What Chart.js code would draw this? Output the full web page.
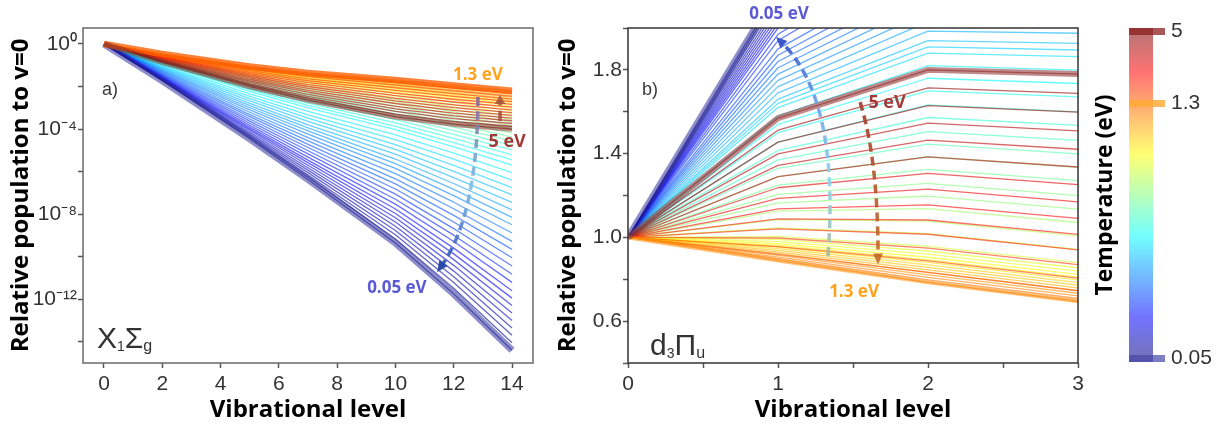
<!DOCTYPE html>
<html><head><meta charset="utf-8">
<script src="https://cdn.jsdelivr.net/npm/chart.js@4.4.1/dist/chart.umd.min.js"></script>
<style>
html,body{margin:0;padding:0;background:#fff;}
body{width:1227px;height:426px;position:relative;overflow:hidden;}
canvas{position:absolute;top:0;}
#ca{left:0}
#cb{left:545px}
#cc{left:1090px}
</style></head><body>
<canvas id="ca" width="545" height="426"></canvas>
<canvas id="cb" width="545" height="426"></canvas>
<canvas id="cc" width="137" height="426"></canvas>
<script>
// ---------------- DATA ----------------
// electron temperatures (eV) of the curves
const tempsCold = [0.05,0.075,0.1,0.125,0.15,0.175,0.2,0.225,0.25,0.275,0.3,0.325,0.35,0.375,0.4,0.425,0.45,0.475,0.5,0.525,0.55,0.575,0.6,0.625,0.65,0.675,0.7,0.725,0.75,0.775,0.8,0.825,0.85,0.875,0.9,0.925,0.95,0.975,1.0,1.025,1.05,1.075,1.1,1.125,1.15,1.175,1.2,1.225,1.25,1.275,1.3];
const tempsHot = [1.56,1.83,2.09,2.36,2.62,2.89,3.15,3.41,3.68,3.94,4.21,4.47,4.74,5.0];

// Panel a) X1Σg : vibrational levels and log10(relative population), v=0 -> 0
const levelsA = [0, 2, 5, 7, 10, 12, 14];
const logA2Cold = [-1.73,-1.72,-1.70,-1.68,-1.66,-1.64,-1.62,-1.60,-1.57,-1.54,-1.51,-1.47,-1.44,-1.40,-1.36,-1.32,-1.28,-1.24,-1.20,-1.16,-1.12,-1.08,-1.04,-0.99,-0.94,-0.91,-0.88,-0.85,-0.83,-0.80,-0.78,-0.75,-0.73,-0.70,-0.68,-0.66,-0.64,-0.63,-0.61,-0.59,-0.57,-0.56,-0.55,-0.54,-0.53,-0.52,-0.51,-0.50,-0.49,-0.48,-0.47];
const logA5Cold = [-4.46,-4.40,-4.34,-4.27,-4.21,-4.14,-4.06,-3.99,-3.91,-3.82,-3.73,-3.63,-3.53,-3.42,-3.32,-3.21,-3.10,-3.00,-2.90,-2.79,-2.68,-2.57,-2.46,-2.35,-2.23,-2.15,-2.08,-2.00,-1.93,-1.87,-1.80,-1.74,-1.68,-1.63,-1.57,-1.53,-1.48,-1.43,-1.39,-1.35,-1.31,-1.27,-1.24,-1.21,-1.19,-1.16,-1.14,-1.11,-1.09,-1.07,-1.06];
const logA7Cold = [-6.37,-6.26,-6.16,-6.05,-5.93,-5.82,-5.70,-5.58,-5.46,-5.32,-5.17,-5.02,-4.87,-4.72,-4.56,-4.40,-4.24,-4.09,-3.95,-3.80,-3.64,-3.49,-3.33,-3.17,-3.00,-2.89,-2.78,-2.68,-2.58,-2.49,-2.40,-2.31,-2.23,-2.15,-2.08,-2.01,-1.95,-1.88,-1.82,-1.76,-1.71,-1.66,-1.62,-1.58,-1.54,-1.51,-1.48,-1.44,-1.41,-1.38,-1.36];
const logA10Cold = [-9.36,-9.17,-8.97,-8.77,-8.57,-8.37,-8.17,-7.97,-7.76,-7.53,-7.30,-7.06,-6.82,-6.58,-6.34,-6.10,-5.85,-5.63,-5.41,-5.18,-4.96,-4.73,-4.50,-4.27,-4.03,-3.87,-3.71,-3.56,-3.42,-3.29,-3.16,-3.04,-2.91,-2.81,-2.71,-2.61,-2.52,-2.43,-2.34,-2.26,-2.19,-2.12,-2.06,-2.00,-1.95,-1.90,-1.86,-1.81,-1.77,-1.73,-1.69];
const logA12Cold = [-11.75,-11.49,-11.22,-10.95,-10.68,-10.41,-10.14,-9.87,-9.60,-9.29,-8.99,-8.68,-8.37,-8.06,-7.75,-7.44,-7.13,-6.84,-6.56,-6.28,-5.99,-5.71,-5.42,-5.13,-4.84,-4.64,-4.44,-4.25,-4.08,-3.91,-3.76,-3.60,-3.45,-3.32,-3.19,-3.08,-2.96,-2.85,-2.75,-2.64,-2.55,-2.47,-2.40,-2.33,-2.26,-2.20,-2.15,-2.09,-2.04,-1.99,-1.95];
const logA14Cold = [-14.40,-14.05,-13.70,-13.35,-13.00,-12.65,-12.30,-11.95,-11.60,-11.21,-10.83,-10.44,-10.05,-9.66,-9.28,-8.89,-8.50,-8.15,-7.80,-7.45,-7.10,-6.75,-6.40,-6.05,-5.70,-5.45,-5.21,-4.98,-4.77,-4.57,-4.38,-4.19,-4.01,-3.85,-3.70,-3.56,-3.42,-3.29,-3.16,-3.04,-2.93,-2.83,-2.74,-2.66,-2.58,-2.51,-2.44,-2.37,-2.31,-2.25,-2.20];
const logA2Hot = [-0.51,-0.53,-0.56,-0.59,-0.62,-0.64,-0.67,-0.70,-0.73,-0.76,-0.79,-0.82,-0.84,-0.87];
const logA5Hot = [-1.13,-1.19,-1.26,-1.33,-1.40,-1.46,-1.53,-1.60,-1.66,-1.73,-1.80,-1.87,-1.93,-2.00];
const logA7Hot = [-1.46,-1.54,-1.64,-1.73,-1.82,-1.91,-2.00,-2.09,-2.18,-2.27,-2.37,-2.46,-2.55,-2.64];
const logA10Hot = [-1.81,-1.94,-2.06,-2.18,-2.31,-2.43,-2.56,-2.68,-2.80,-2.93,-3.05,-3.17,-3.30,-3.42];
const logA12Hot = [-2.07,-2.21,-2.34,-2.46,-2.60,-2.73,-2.86,-2.99,-3.12,-3.25,-3.38,-3.51,-3.64,-3.77];
const logA14Hot = [-2.33,-2.46,-2.59,-2.71,-2.84,-2.97,-3.10,-3.23,-3.36,-3.49,-3.61,-3.74,-3.87,-4.00];

// Panel b) d3Πu : relative population at v = 1, 2, 3 (v=0 is 1)
const levelsB = [0, 1, 2, 3];
const b1Cold = [2.18,2.16,2.14,2.12,2.10,2.08,2.06,2.04,2.02,2.00,1.97,1.94,1.90,1.87,1.84,1.81,1.78,1.75,1.72,1.69,1.66,1.64,1.62,1.58,1.54,1.50,1.455,1.415,1.37,1.33,1.29,1.25,1.205,1.165,1.125,1.085,1.045,1.005,0.99,0.98,0.97,0.962,0.954,0.946,0.938,0.93,0.922,0.914,0.906,0.898,0.89];
const b2Cold = [2.72,2.69,2.66,2.63,2.60,2.57,2.54,2.51,2.48,2.45,2.405,2.36,2.30,2.255,2.21,2.165,2.12,2.075,2.03,1.985,1.94,1.91,1.88,1.82,1.76,1.70,1.6325,1.5725,1.505,1.445,1.385,1.325,1.2575,1.1975,1.1375,1.0775,1.0175,0.9575,0.935,0.92,0.905,0.893,0.881,0.869,0.857,0.845,0.833,0.821,0.809,0.797,0.785];
const b3Cold = [2.715,2.685,2.655,2.625,2.595,2.565,2.535,2.505,2.475,2.445,2.40,2.355,2.295,2.25,2.205,2.16,2.115,2.07,2.025,1.975,1.927,1.895,1.863,1.799,1.735,1.671,1.599,1.535,1.463,1.399,1.335,1.271,1.199,1.135,1.071,1.007,0.943,0.879,0.855,0.839,0.823,0.810,0.797,0.784,0.772,0.759,0.746,0.733,0.721,0.708,0.695];
const b1Hot = [0.919,0.956,0.997,1.041,1.088,1.136,1.186,1.237,1.290,1.344,1.399,1.455,1.512,1.570];
const b2Hot = [0.833,0.888,0.949,1.015,1.083,1.155,1.230,1.306,1.384,1.464,1.546,1.629,1.714,1.800];
const b3Hot = [0.745,0.805,0.870,0.940,1.014,1.091,1.170,1.252,1.336,1.421,1.509,1.598,1.688,1.780];

// ticks
const xTicksA = [0,2,4,6,8,10,12,14];
const yTickExpA = [0,-2,-4,-6,-8,-10,-12,-14];
const yTickTextA = ['10⁰','','10⁻⁴','','10⁻⁸','','10⁻¹²',''];
const xTicksB = [0,0.5,1,1.5,2,2.5,3];
const xTickTextB = ['0','','1','','2','','3'];
const yTicksB = [0.4,0.6,0.8,1.0,1.2,1.4,1.6,1.8,2.0];
const yTickTextB = ['','0.6','','1.0','','1.4','','1.8',''];
const cbTemps = [0.05, 1.3, 5];
const cbTickText = ['0.05','1.3','5'];

// ---------------- STYLE HELPERS ----------------
Chart.defaults.animation = false;
const allTemps = tempsCold.concat(tempsHot);
const nAll = allTemps.length;
function jetRGB(f){
  const c = v => Math.max(0, Math.min(1, v));
  return [c(1.5-Math.abs(4*f-3)), c(1.5-Math.abs(4*f-2)), c(1.5-Math.abs(4*f-1))].map(v=>Math.round(v*255));
}
function jet(f,a){ const [r,g,b]=jetRGB(f); return `rgba(${r},${g},${b},${a})`; }
const fracOf = T => allTemps.indexOf(T)/(nAll-1);

function line(xs, ys, color, w){
  return {data: xs.map((x,j)=>({x, y: ys[j]})), borderColor: color, borderWidth: w,
          pointRadius: 0, pointHoverRadius: 0, fill: false, tension: 0, borderCapStyle: 'butt', borderJoinStyle: 'round'};
}
const TH = 1.3, LA = 0.6;

const colsACold = [logA2Cold, logA5Cold, logA7Cold, logA10Cold, logA12Cold, logA14Cold];
const colsAHot = [logA2Hot, logA5Hot, logA7Hot, logA10Hot, logA12Hot, logA14Hot];
const colsBCold = [b1Cold, b2Cold, b3Cold];
const colsBHot = [b1Hot, b2Hot, b3Hot];
function seriesA(i, hot){ return [1].concat((hot ? colsAHot : colsACold).map(c => Math.pow(10, c[i]))); }
function seriesB(i, hot){ return [1].concat((hot ? colsBHot : colsBCold).map(c => c[i])); }
function buildSets(levels, series, hl){
  const sets = [];
  sets.push(line(levels, series(tempsHot.length-1, true), hl.hot, hl.hotW));
  sets.push(line(levels, series(tempsCold.length-1, false), hl.mid, hl.midW));
  sets.push(line(levels, series(0, false), hl.cold, hl.coldW));
  tempsHot.slice().reverse().forEach((T, r) => {
    const i = tempsHot.length-1-r;
    sets.push(line(levels, series(i, true), jet(fracOf(T), LA), TH));
  });
  tempsCold.forEach((T, i) => sets.push(line(levels, series(i, false), jet(fracOf(T), LA), TH)));
  return sets;
}

// ---------- annotation plugin ----------
function drawArrow(ctx, xs, ys, conv, ar){
  const P = p => [xs.getPixelForValue(p[0]), ys.getPixelForValue(conv(p[1]))];
  const p0 = P(ar.from), c = P(ar.ctrl), p1 = P(ar.to);
  let dx = p1[0]-c[0], dy = p1[1]-c[1]; const len = Math.hypot(dx,dy)||1; dx/=len; dy/=len;
  const hl = ar.head, hw = ar.headW/2;
  const end = [p1[0]-dx*hl*0.7, p1[1]-dy*hl*0.7];
  const g = ctx.createLinearGradient(p0[0],p0[1],p1[0],p1[1]);
  ar.colors.forEach((col,i)=> g.addColorStop(i/(ar.colors.length-1), col));
  ctx.save();
  ctx.strokeStyle = g; ctx.lineWidth = ar.width; ctx.setLineDash(ar.dash); ctx.lineCap='butt';
  ctx.beginPath(); ctx.moveTo(p0[0],p0[1]); ctx.quadraticCurveTo(c[0],c[1],end[0],end[1]); ctx.stroke();
  ctx.setLineDash([]);
  ctx.fillStyle = ar.colors[ar.colors.length-1];
  ctx.beginPath(); ctx.moveTo(p1[0],p1[1]);
  ctx.lineTo(p1[0]-dx*hl - dy*hw, p1[1]-dy*hl + dx*hw);
  ctx.lineTo(p1[0]-dx*hl + dy*hw, p1[1]-dy*hl - dx*hw);
  ctx.closePath(); ctx.fill();
  ctx.restore();
}
function annotPlugin(cfg){
  return {
    id: 'annot',
    afterDatasetsDraw(chart){
      const {ctx, chartArea: a} = chart; const xs = chart.scales.x, ys = chart.scales.y;
      ctx.save();
      ctx.strokeStyle = cfg.frame; ctx.lineWidth = 1.5;
      ctx.strokeRect(a.left, a.top, a.right-a.left, a.bottom-a.top);
      cfg.arrows.forEach(ar => drawArrow(ctx, xs, ys, cfg.conv, ar));
      cfg.texts.forEach(t => {
        ctx.font = t.font; ctx.fillStyle = t.color; ctx.textAlign = t.align; ctx.textBaseline = 'middle';
        ctx.fillText(t.text, xs.getPixelForValue(t.x), ys.getPixelForValue(cfg.conv(t.y)));
      });
      const s = cfg.state;
      let px = xs.getPixelForValue(s.x); const py = ys.getPixelForValue(cfg.conv(s.y));
      ctx.fillStyle = '#333'; ctx.textAlign = 'left'; ctx.textBaseline = 'alphabetic';
      s.parts.forEach(p => {
        ctx.font = `${p.size}px "Liberation Sans", Arial, sans-serif`;
        ctx.fillText(p.t, px, py + (p.dy||0));
        px += ctx.measureText(p.t).width + (p.gap||0);
      });
      ctx.restore();
    }
  };
}
const FT = '"Liberation Sans", Arial, sans-serif';
const FB = '"Open Sans", sans-serif';
const annotA = {
  frame: '#6a6a6a', conv: L => Math.pow(10, L),
  texts: [
    {x:-0.07, y:-2.16, text:'a)', font:`18px ${FT}`, color:'#3a3a3a', align:'left'},
    {x:12.83, y:-1.46, text:'1.3 eV', font:`bold 17px ${FB}`, color:'#ffa31f', align:'center'},
    {x:13.83, y:-4.61, text:'5 eV', font:`bold 18px ${FB}`, color:'#a33a3a', align:'center'},
    {x:10.05, y:-11.48, text:'0.05 eV', font:`bold 17px ${FB}`, color:'#5a5ad6', align:'center'}
  ],
  state: {x:-0.24, y:-14.3, parts:[{t:'X',size:30},{t:'1',size:14,dy:3},{t:'Σ',size:30},{t:'g',size:16,dy:3}]},
  arrows: [
    {from:[12.83,-2.49], ctrl:[12.83,-8.0], to:[11.43,-10.73], colors:['rgba(135,100,145,0.9)','rgba(125,190,235,0.9)','rgba(40,70,165,0.95)'], width:3.5, dash:[9,5], head:11, headW:10},
    {from:[13.59,-3.62], ctrl:[13.59,-3.0], to:[13.59,-2.4], colors:['rgba(165,70,50,0.85)','rgba(165,85,55,0.85)'], width:3.5, dash:[10,5], head:9, headW:11}
  ]
};
const annotB = {
  frame: '#333', conv: v => v,
  texts: [
    {x:0.093, y:1.703, text:'b)', font:`18px ${FT}`, color:'#3a3a3a', align:'left'},
    {x:1.007, y:2.067, text:'0.05 eV', font:`bold 17px ${FB}`, color:'#5a5ad6', align:'center'},
    {x:1.727, y:1.641, text:'5 eV', font:`bold 18px ${FB}`, color:'#a33a3a', align:'center'},
    {x:1.507, y:0.737, text:'1.3 eV', font:`bold 17px ${FB}`, color:'#ffa31f', align:'center'}
  ],
  state: {x:0.147, y:0.44, parts:[{t:'d',size:30},{t:'3',size:14,dy:3},{t:'Π',size:30},{t:'u',size:16,dy:3}]},
  arrows: [
    {from:[1.333,0.909], ctrl:[1.413,1.66], to:[0.987,1.957], colors:['rgba(165,185,160,0.9)','rgba(140,210,240,0.9)','rgba(110,160,230,0.9)','rgba(50,80,200,0.95)'], width:3.5, dash:[9,5], head:11, headW:10},
    {from:[1.547,1.646], ctrl:[1.667,1.373], to:[1.667,0.871], colors:['rgba(165,55,40,0.9)','rgba(195,110,40,0.9)'], width:3.5, dash:[9,5], head:11, headW:10}
  ]
};

function axisCommon(){
  return {
    border: {display:false},
    grid: {drawOnChartArea:false, drawTicks:true, tickLength:5, tickColor:'#555', tickWidth:1.5}
  };
}
function titleOpt(text, pad){
  return {display:true, text, color:'#000', font:{family:'"Open Sans", sans-serif', weight:'bold', size:24}, padding:pad};
}

// ---------- panel a ----------
new Chart(document.getElementById('ca'), {
  type: 'line',
  data: { datasets: buildSets(levelsA, seriesA, {hot:'rgba(130,50,40,0.55)', hotW:5.5, mid:'rgba(255,95,0,0.78)', midW:6.5, cold:'rgba(50,50,160,0.55)', coldW:7}) },
  options: {
    responsive:false, animation:false, events:[],
    layout:{padding:{left:0,right:12,top:28,bottom:0}},
    plugins:{legend:{display:false}, tooltip:{enabled:false}},
    scales: {
      x: Object.assign(axisCommon(), {
        type:'linear', min:-0.72, max:14.72,
        afterBuildTicks: s => { s.ticks = xTicksA.map(v=>({value:v})); },
        afterFit: s => { s.height = 63; },
        ticks:{autoSkip:false, maxRotation:0, padding:4, color:'#333', font:{family:FT, size:21}, callback: v => String(v)},
        title: titleOpt('Vibrational level', {top:0,bottom:1})
      }),
      y: Object.assign(axisCommon(), {
        type:'logarithmic', min:1e-15, max:Math.pow(10,0.75),
        afterBuildTicks: s => { s.ticks = yTickExpA.map(e=>({value:Math.pow(10,e)})); },
        afterFit: s => { s.width = 83; },
        ticks:{autoSkip:false, padding:1, color:'#333', font:{family:FT, size:21},
               callback: v => yTickTextA[yTickExpA.indexOf(Math.round(Math.log10(v)))] || ''},
        title: titleOpt('Relative population to v=0', {top:7,bottom:0})
      })
    }
  },
  plugins:[annotPlugin(annotA)]
});

// ---------- panel b ----------
new Chart(document.getElementById('cb'), {
  type: 'line',
  data: { datasets: buildSets(levelsB, seriesB, {hot:'rgba(150,60,60,0.6)', hotW:6, mid:'rgba(255,150,20,0.6)', midW:4, cold:'rgba(50,50,160,0.55)', coldW:7}) },
  options: {
    responsive:false, animation:false, events:[],
    layout:{padding:{left:0,right:12,top:28,bottom:0}},
    plugins:{legend:{display:false}, tooltip:{enabled:false}},
    scales: {
      x: Object.assign(axisCommon(), {
        type:'linear', min:0, max:3,
        afterBuildTicks: s => { s.ticks = xTicksB.map(v=>({value:v})); },
        afterFit: s => { s.height = 63; },
        ticks:{autoSkip:false, maxRotation:0, padding:4, color:'#333', font:{family:FT, size:21},
               callback: v => xTickTextB[xTicksB.findIndex(t=>Math.abs(t-v)<1e-6)] || ''},
        title: titleOpt('Vibrational level', {top:0,bottom:1})
      }),
      y: Object.assign(axisCommon(), {
        type:'linear', min:0.4, max:2.0,
        afterBuildTicks: s => { s.ticks = yTicksB.map(v=>({value:v})); },
        afterFit: s => { s.width = 83; },
        ticks:{autoSkip:false, padding:1, color:'#333', font:{family:FT, size:21},
               callback: v => yTickTextB[yTicksB.findIndex(t=>Math.abs(t-v)<1e-6)] || ''},
        title: titleOpt('Relative population to v=0', {top:9,bottom:0})
      })
    }
  },
  plugins:[annotPlugin(annotB)]
});

// ---------- colour bar ----------
const cbPos = cbTemps.map(fracOf);
const cbLo = -0.011, cbHi = 1.011;
const cbBandColors = ['rgba(70,70,170,0.7)','rgba(255,170,50,0.8)','rgba(140,30,30,0.75)'];
new Chart(document.getElementById('cc'), {
  type:'bar',
  data:{ labels:[''], datasets:[{
    data:[[cbLo, cbHi]], borderWidth:0, barPercentage:1, categoryPercentage:1,
    backgroundColor: ctx => {
      const ch = ctx.chart; const y = ch.scales.y; if (!y || !ch.chartArea) return 'rgba(0,0,0,0)';
      const g = ch.ctx.createLinearGradient(0, y.getPixelForValue(0), 0, y.getPixelForValue(1));
      for (let k=0;k<=32;k++){ const f=k/32; g.addColorStop(f, jet(f,0.55)); }
      return g;
    }
  }]},
  options:{
    responsive:false, animation:false, events:[],
    layout:{padding:{left:0,right:0,top:28,bottom:64}},
    plugins:{legend:{display:false}, tooltip:{enabled:false}},
    scales:{
      x:{display:false},
      y:{position:'right', min:cbLo, max:cbHi,
         afterBuildTicks: s => { s.ticks = cbPos.map(v=>({value:v})); },
         afterFit: s => { s.width = 74; },
         ticks:{autoSkip:false, padding:6, color:'#333', font:{family:FT, size:21}, callback:(v,i)=>cbTickText[i]},
         grid:{z:1, drawOnChartArea:true, drawTicks:true, color: c => cbBandColors[c.index], lineWidth:7, tickLength:12, tickWidth:7},
         border:{display:false}},
      yl:{position:'left', min:0, max:1, afterFit: s => { s.width = 39; },
         ticks:{display:false}, grid:{display:false}, border:{display:false},
         title:{display:true, text:'Temperature (eV)', color:'#000', font:{family:'"Open Sans", sans-serif', weight:'bold', size:23}, padding:{top:2,bottom:0}}}
    }
  }
});
</script>
</body></html>
